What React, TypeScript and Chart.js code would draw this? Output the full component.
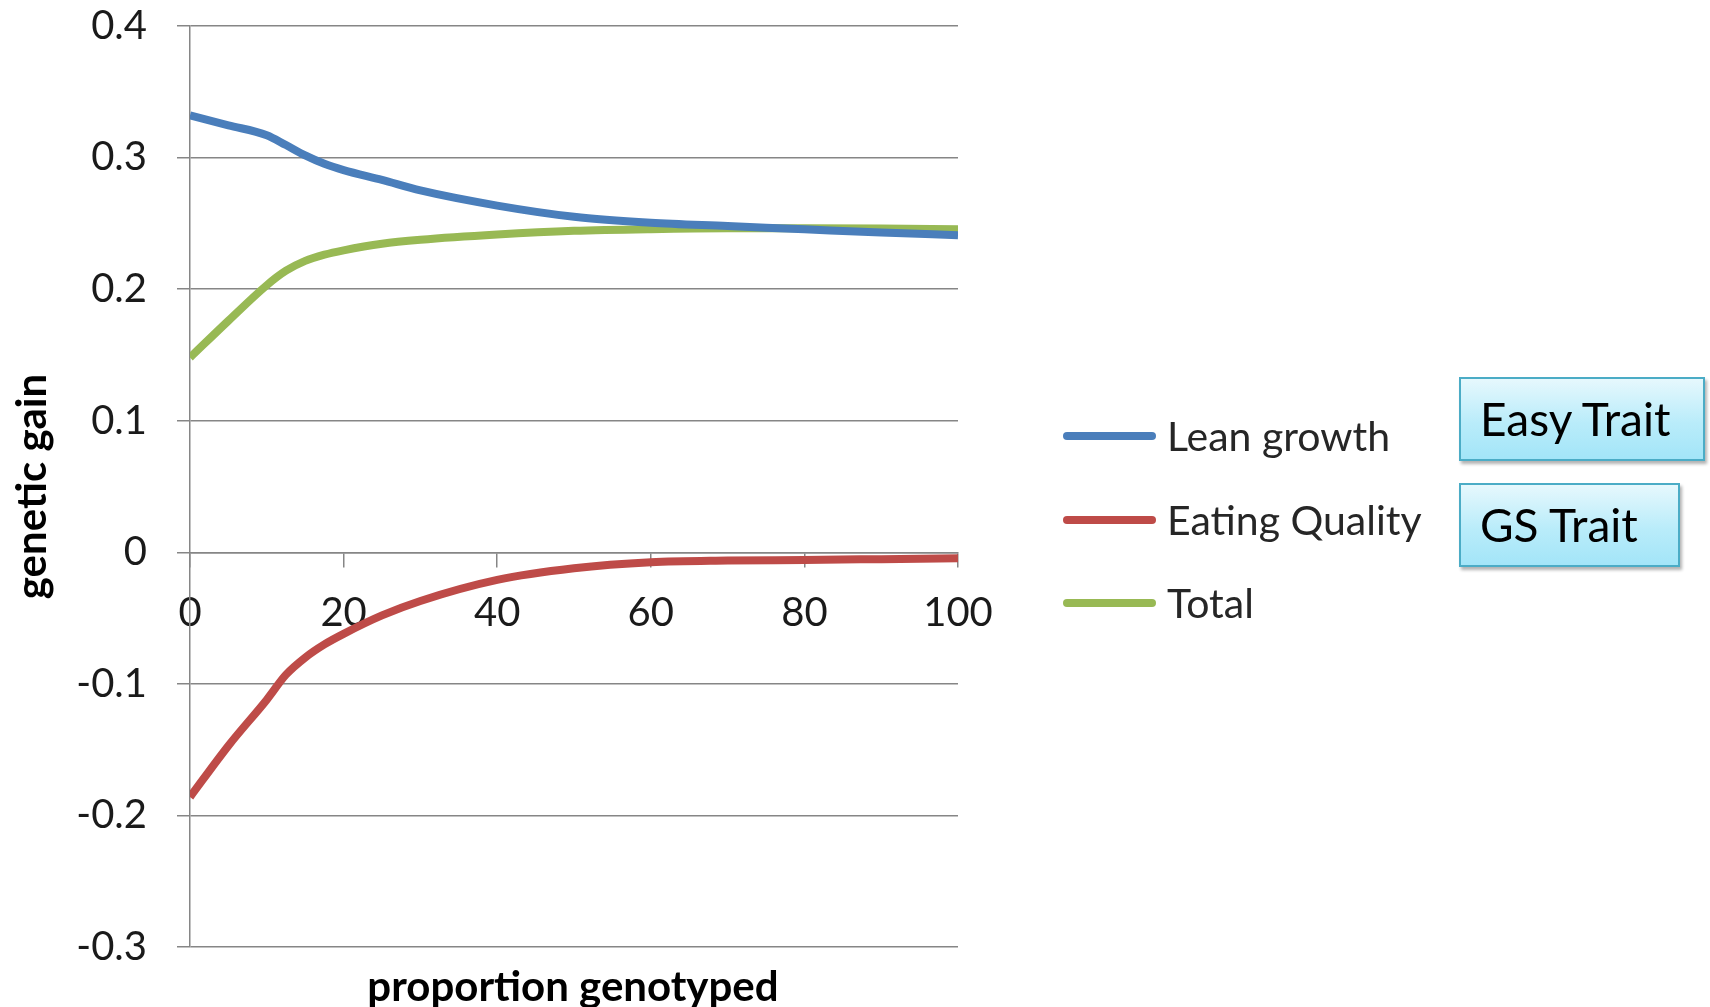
import React, { useEffect, useRef } from 'react';
import { Chart, registerables } from 'chart.js';

Chart.register(...registerables);

// ---- data ----
const proportion = [0, 5, 10, 12.5, 15, 17.5, 20, 25, 30, 40, 50, 60, 70, 80, 90, 100];
const leanGrowth = [0.332, 0.3245, 0.317, 0.3095, 0.3017, 0.2953, 0.2905, 0.283, 0.275, 0.2635, 0.255, 0.2505, 0.248, 0.2455, 0.243, 0.241];
const eatingQuality = [-0.186, -0.147, -0.112, -0.093, -0.08, -0.07, -0.062, -0.048, -0.037, -0.021, -0.0122, -0.0076, -0.0063, -0.0058, -0.0052, -0.0046];
const total = [0.148, 0.176, 0.203, 0.214, 0.2215, 0.2262, 0.2295, 0.2345, 0.2375, 0.2415, 0.2443, 0.2456, 0.2462, 0.2462, 0.246, 0.2455];

const seriesNames = ['Lean growth', 'Eating Quality', 'Total'];
const seriesColors = ['#4a7ebb', '#be4b48', '#98b954'];

const xTickValues = [0, 20, 40, 60, 80, 100];
const yTickValues = [-0.3, -0.2, -0.1, 0, 0.1, 0.2, 0.3, 0.4];
const yTickLabels = ['-0.3', '-0.2', '-0.1', '0', '0.1', '0.2', '0.3', '0.4'];

const xTitle = 'proportion genotyped';
const yTitle = 'genetic gain';
const boxLabels = ['Easy Trait', 'GS Trait'];

const FONT = 'Lato, "Open Sans", "DejaVu Sans", sans-serif';

export default function App() {
  const canvasRef = useRef<HTMLCanvasElement | null>(null);

  useEffect(() => {
    const canvas = canvasRef.current;
    if (!canvas) return;
    const seriesValues = [leanGrowth, eatingQuality, total];
    const chart = new Chart(canvas, {
      type: 'line',
      data: {
        datasets: seriesNames.map((name, i) => ({
          label: name,
          data: proportion.map((x, j) => ({ x, y: seriesValues[i][j] })),
          borderColor: seriesColors[i],
          backgroundColor: seriesColors[i],
          borderWidth: 8,
          pointRadius: 0,
          cubicInterpolationMode: 'monotone' as const,
          fill: false,
        })),
      },
      options: {
        responsive: false,
        animation: false,
        devicePixelRatio: 1,
        layout: { padding: { left: 0, top: 26, right: 752, bottom: 60 } },
        plugins: {
          legend: { display: false },
          tooltip: { enabled: false },
        },
        scales: {
          x: {
            type: 'linear',
            position: { y: 0 } as any,
            min: 0,
            max: 100,
            afterBuildTicks: (scale: any) => {
              scale.ticks = xTickValues.map((v) => ({ value: v }));
            },
            ticks: {
              color: '#1a1a1a',
              font: { family: FONT, size: 40 },
              padding: 23,
              maxRotation: 0,
              autoSkip: false,
              callback: (v: any) => String(v),
            },
            grid: {
              drawOnChartArea: false,
              drawTicks: true,
              tickLength: 14,
              color: '#868686',
              lineWidth: 1.5,
            },
            border: { display: true, color: '#868686', width: 1.5 },
          },
          y: {
            type: 'linear',
            min: -0.3,
            max: 0.4,
            afterFit: (scale: any) => {
              scale.width = 190;
              scale.paddingTop = 0;
              scale.paddingBottom = 0;
            },
            afterBuildTicks: (scale: any) => {
              scale.ticks = yTickValues.map((v) => ({ value: v }));
            },
            ticks: {
              color: '#1a1a1a',
              font: { family: FONT, size: 40 },
              padding: 30,
              autoSkip: false,
              callback: (v: any) => {
                const idx = yTickValues.findIndex((t) => Math.abs(t - Number(v)) < 1e-9);
                return idx >= 0 ? yTickLabels[idx] : '';
              },
            },
            grid: {
              drawTicks: true,
              tickLength: 13,
              color: '#868686',
              lineWidth: 1.5,
            },
            border: { display: true, color: '#868686', width: 1.5 },
            title: {
              display: true,
              text: yTitle,
              color: '#000',
              font: { family: FONT, size: 42, weight: 'bold' },
              padding: { top: 7, bottom: 0 },
            },
          },
        },
      },
    });
    return () => chart.destroy();
  }, []);

  const legendTop = [436, 520, 603];

  return (
    <div style={{ position: 'absolute', left: 0, top: 0, width: 1710, height: 1007, background: '#fff', overflow: 'hidden' }}>
      <canvas ref={canvasRef} width={1710} height={1007} style={{ position: 'absolute', left: 0, top: 0, width: 1710, height: 1007 }} />
      <div
        style={{
          position: 'absolute',
          left: 573 - 300,
          width: 600,
          top: 985 - 25,
          height: 50,
          lineHeight: '50px',
          textAlign: 'center',
          fontFamily: FONT,
          fontWeight: 'bold',
          fontSize: 42,
          color: '#000',
        }}
      >
        {xTitle}
      </div>
      {seriesNames.map((name, i) => (
        <div key={name}>
          <div
            style={{
              position: 'absolute',
              left: 1063,
              top: legendTop[i] - 4,
              width: 93,
              height: 8,
              borderRadius: 4,
              background: seriesColors[i],
            }}
          />
          <div
            style={{
              position: 'absolute',
              left: 1167,
              top: legendTop[i] - 25,
              height: 50,
              lineHeight: '50px',
              fontFamily: FONT,
              fontSize: 41,
              color: '#262626',
              whiteSpace: 'nowrap',
            }}
          >
            {name}
          </div>
        </div>
      ))}
      {boxLabels.map((label, i) => (
        <div
          key={label}
          style={{
            position: 'absolute',
            left: 1459,
            top: i === 0 ? 377 : 483,
            width: i === 0 ? 246 : 221,
            height: 84,
            boxSizing: 'border-box',
            border: '2px solid #4bacc6',
            background: 'linear-gradient(to bottom, #e6f8fd 0%, #b9ecfa 55%, #a3e5f8 100%)',
            boxShadow: '2px 3px 3px rgba(0,0,0,0.3)',
            fontFamily: FONT,
            fontSize: 46,
            color: '#000',
            lineHeight: '80px',
            paddingLeft: 19,
            whiteSpace: 'nowrap',
          }}
        >
          {label}
        </div>
      ))}
    </div>
  );
}
